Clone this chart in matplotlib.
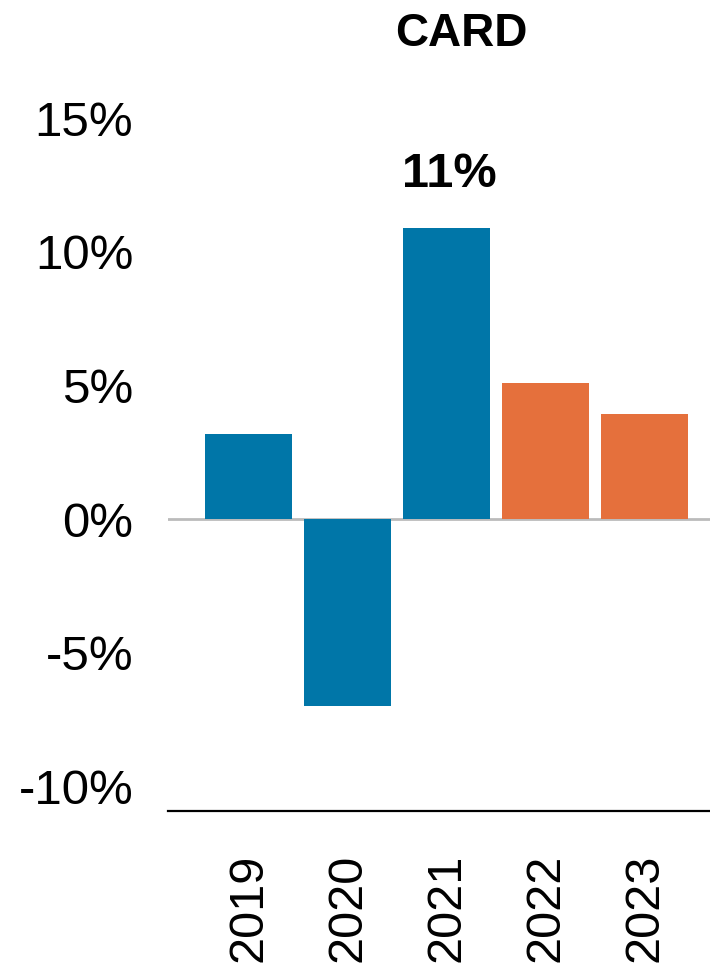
import matplotlib.pyplot as plt

# data
years = ['2019', '2020', '2021', '2022', '2023']
growth = [3.2, -7.0, 10.9, 5.1, 3.95]
colors = ['#0076A8', '#0076A8', '#0076A8', '#E5703C', '#E5703C']
yticks = [-10, -5, 0, 5, 10, 15]
title = 'CARD'

plt.rcParams['font.family'] = ['Liberation Sans', 'DejaVu Sans']

fig = plt.figure(figsize=(7.1, 9.71), dpi=100)
ax = fig.add_axes([0.2366, 0.1648, 0.7634, 0.727])

x = range(len(years))
bars = ax.bar(x, growth, width=0.88, color=colors, zorder=2)

ax.axhline(0, color='#bbbbbb', lw=2, zorder=1)

ax.set_xlim(-0.815, 4.658)
ax.set_ylim(-10.93, 15.5)

ax.set_yticks(yticks)
ax.set_yticklabels([f'{t}%' for t in yticks], fontsize=35.5)
ax.set_xticks(list(x))
ax.set_xticklabels(years, rotation=90, fontsize=35)
ax.tick_params(axis='y', length=0, pad=25)
ax.tick_params(axis='x', length=0, pad=31)

for s in ['top', 'right', 'left']:
    ax.spines[s].set_visible(False)
ax.spines['bottom'].set_linewidth(1.6)
ax.spines['bottom'].set_color('black')

# label only the peak year
i_max = growth.index(max(growth))
ax.annotate(f'{round(growth[i_max])}%', xy=(i_max, growth[i_max]),
            xytext=(2, 22), textcoords='offset points',
            ha='center', va='bottom', fontsize=35, fontweight='bold')

fig.text(461 / 710, 1 - 34 / 971, title, ha='center', va='center',
         fontsize=33, fontweight='bold')

fig.savefig('out.png', dpi=100)
